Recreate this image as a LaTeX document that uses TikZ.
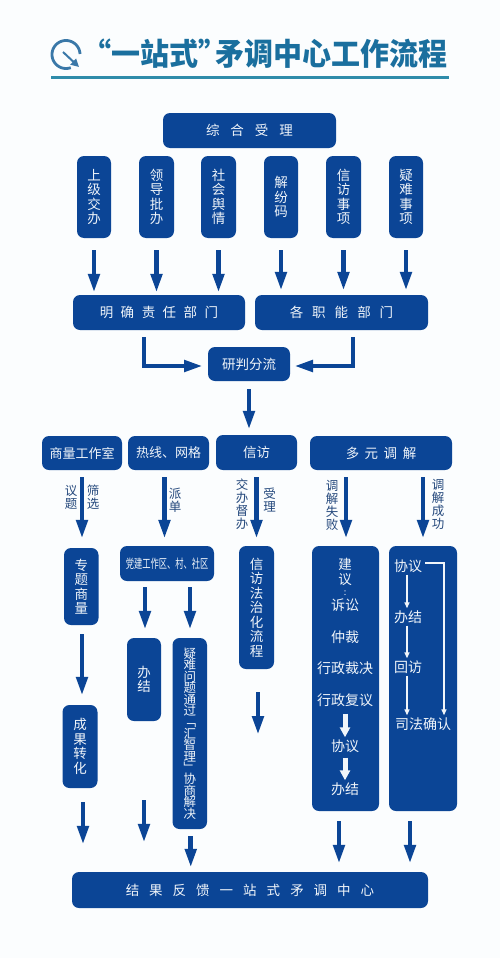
\documentclass[tikz,border=0pt]{standalone}
\usepackage{fontspec}
\usepackage{graphicx}
\setmainfont{Noto Sans CJK SC}
\usetikzlibrary{arrows.meta}
\definecolor{navy}{HTML}{0B4596}
\definecolor{lab}{HTML}{24487C}
\definecolor{ttl}{HTML}{1A6F9E}
\definecolor{rule}{HTML}{2F8CAA}
\definecolor{icn}{HTML}{3A78A8}
\definecolor{paper}{HTML}{FBFDFE}
\definecolor{txt}{HTML}{F0F5FA}
\lineskiplimit=-20pt
\tikzset{
  x=1pt,y=-1pt,
  box/.style={fill=navy,rounded corners=7pt,inner sep=0pt,align=center,text=txt,font=\fontsize{13.5}{14.5}\selectfont},
  tightbox/.style={font=\fontsize{12.5}{11.4}\selectfont},
  wordv/.style={inner sep=0pt,align=center,text=txt,font=\fontsize{14}{15}\selectfont},
  lbl/.style={inner sep=0pt,align=center,text=lab,font=\fontsize{12.5}{13}\selectfont},
  arr/.style={draw=navy,line width=4.7pt,-{Triangle[length=19pt,width=11pt]}},
  barr/.style={draw=navy,line width=4.7pt,line join=miter,-{Triangle[length=19pt,width=11pt]}},
  warr/.style={draw=txt,line width=1.3pt,-{Triangle[length=6pt,width=5pt]}},
  warrb/.style={draw=txt,line width=5pt,-{Triangle[length=10pt,width=10pt]}},
}
\newcommand{\bx}[7][]{%
  \pgfmathsetmacro{\cxx}{(#3+#5)/2}\pgfmathsetmacro{\cyy}{(#4+#6)/2}%
  \pgfmathsetmacro{\wxx}{#5-#3}\pgfmathsetmacro{\hyy}{#6-#4}%
  \node[box,#1,minimum width=\wxx pt,minimum height=\hyy pt] (#2) at (\cxx,\cyy) {#7};}
\newcommand{\gp}[1]{\hspace{#1pt}}
\begin{document}
\begin{tikzpicture}
\useasboundingbox (0,0) rectangle (500,958);
\fill[paper] (0,0) rectangle (500,958);
% title
\draw[icn,line width=2.8pt] plot[domain=70:358,samples=50] ({66+14*cos(\x)},{54.5+14*sin(\x)});
\draw[icn,line width=2pt,-{Triangle[length=8pt,width=8pt]}] (63,52) -- (79,67);
\node[inner sep=0pt,text=ttl] (title1) at (155,54) {\scalebox{1}[1.06]{\fontsize{29}{30}\selectfont\bfseries “一站式”}};
\node[inner sep=0pt,text=ttl] (title2) at (331.5,54) {\scalebox{1}[1.06]{\fontsize{29}{30}\selectfont\bfseries 矛调中心工作流程}};
\fill[rule] (51,75.5) rectangle (449,78.5);
% top
\bx{zh}{163}{113}{336}{148}{综\gp{11}合\gp{11}受\gp{11}理}
\bx{t1}{77}{156}{111}{238}{上\\级\\交\\办}
\bx{t2}{139}{156}{174}{238}{领\\导\\批\\办}
\bx{t3}{201}{156}{236}{238}{社\\会\\舆\\情}
\bx{t4}{264}{156}{298}{238}{解\\纷\\码}
\bx{t5}{326}{156}{361}{238}{信\\访\\事\\项}
\bx{t6}{389}{156}{423}{238}{疑\\难\\事\\项}
\bx{m1}{73}{295}{245}{330}{明\gp{7.5}确\gp{7.5}责\gp{7.5}任\gp{7.5}部\gp{7.5}门}
\bx{m2}{255}{295}{428}{330}{各\gp{9}职\gp{9}能\gp{9}部\gp{9}门}
\bx{yp}{208}{347}{290}{381}{研判分流}
\bx{a1}{42}{436}{122}{470}{\fontsize{13}{14}\selectfont 商量工作室}
\bx{a2}{128}{436}{209}{470}{\fontsize{13}{14}\selectfont 热线、网格}
\bx{a3}{216}{435}{297}{470}{信访}
\bx{a4}{310}{436}{452}{470}{多\gp{5.5}元\gp{5.5}调\gp{5.5}解}
\bx{b1}{64}{548}{98.5}{625}{专\\题\\商\\量}
\bx{b2}{120}{546}{214}{581}{\scalebox{0.66}[1]{\fontsize{12.5}{13}\selectfont 党建工作区、村、社区}}
\bx{c1}{127}{638}{161}{721}{办\\结}
\bx[tightbox]{c2}{172.5}{638}{207}{829}{疑\\难\\问\\题\\通\\过\\﹁\\汇\\智\\理\\﹂\\协\\商\\解\\决}
\bx{b3}{239}{546}{274}{669}{信\\访\\法\\治\\化\\流\\程}
\bx{b4}{312}{546}{379}{811}{}
\bx{b5}{389}{546}{457}{811}{}
\bx{d1}{62.5}{705}{97.5}{788}{成\\果\\转\\化}
\bx{ft}{72}{872}{428}{908}{结\gp{10}果\gp{10}反\gp{10}馈\gp{10}一\gp{10}站\gp{10}式\gp{10}矛\gp{10}调\gp{10}中\gp{10}心}
% free arrow ends
\coordinate (x3) at (258,692);
\coordinate (x3e) at (258,735);
\coordinate (l1) at (144,337);
\coordinate (l2) at (144,366);
\coordinate (l3) at (203,366);
\coordinate (r1) at (353,337);
\coordinate (r2) at (353,366);
\coordinate (r3) at (294,366);
% texts in blue boxes
\node[wordv,font=\fontsize{13.5}{14.5}\selectfont] (j1) at (345,577) {建\\议\\[-3pt]\fontsize{9}{9}\selectfont :};
\node[wordv] (j2) at (345,605) {诉讼};
\node[wordv] (j3) at (345,637) {仲裁};
\node[wordv] (j4) at (345,668) {行政裁决};
\node[wordv] (j5) at (345,700) {行政复议};
\node[wordv] (j6) at (345,746) {协议};
\node[wordv] (j7) at (345,789) {办结};
\node[wordv] (p1) at (408,566) {协议};
\node[wordv] (p2) at (408,617) {办结};
\node[wordv] (p3) at (408,667) {回访};
\node[wordv] (p4) at (423,724) {司法确认};
% labels
\node[lbl] at (71,497) {议\\题};
\node[lbl] at (93,497) {筛\\选};
\node[lbl] at (175,500) {派\\单};
\node[lbl] at (242,504) {交\\办\\督\\办};
\node[lbl] at (269.5,500) {受\\理};
\node[lbl] at (332,505) {调\\解\\失\\败};
\node[lbl] at (438,504) {调\\解\\成\\功};
% arrows row 1
\foreach \n/\t in {t1/m1,t2/m1,t3/m1}
  \draw[arr] ([yshift=-12pt]\n.south) -- ([yshift=2pt]\n.south |- \t.north);
\foreach \n/\t in {t4/m2,t5/m2,t6/m2}
  \draw[arr] ([yshift=-12pt]\n.south) -- ([yshift=4pt]\n.south |- \t.north);
\draw[barr] (l1) -- (l2) -- (l3);
\draw[barr] (r1) -- (r2) -- (r3);
\draw[arr] ([yshift=-8pt]yp.south) -- ([yshift=5pt]yp.south |- a3.north);
\draw[arr] ([yshift=-7pt,xshift=0pt]a1.south) -- ([yshift=9pt]a1.south |- b1.north);
\draw[arr] ([yshift=-7pt,xshift=-4pt]a2.south) -- ([xshift=-4pt,yshift=7pt]a2.south |- b2.north);
\draw[arr] ([yshift=-7pt]a3.south) -- ([yshift=7pt]a3.south |- b3.north);
\draw[arr] ([yshift=-7pt,xshift=-35pt]a4.south) -- ([xshift=-35pt,yshift=7pt]a4.south |- b4.north);
\draw[arr] ([yshift=-7pt,xshift=42pt]a4.south) -- ([xshift=42pt,yshift=7pt]a4.south |- b5.north);
\draw[arr] ([xshift=0.75pt,yshift=-9pt]b1.south) -- ([xshift=0.75pt,yshift=9pt]b1.south |- d1.north);
\draw[arr] ([xshift=-22pt,yshift=-6pt]b2.south) -- ([xshift=-22pt,yshift=8pt]b2.south |- c1.north);
\draw[arr] ([xshift=23pt,yshift=-6pt]b2.south) -- ([xshift=23pt,yshift=8pt]b2.south |- c2.north);
\draw[arr] (x3) -- (x3e);
\draw[arr] ([xshift=3pt,yshift=-14pt]d1.south) -- ([xshift=3pt,yshift=27pt]d1.south |- ft.north);
\draw[arr] ([yshift=-79pt]c1.south) -- ([yshift=29pt]c1.south |- ft.north);
\draw[arr] ([xshift=1pt,yshift=-7pt]c2.south) -- ([xshift=1pt,yshift=4pt]c2.south |- ft.north);
\draw[arr] ([xshift=-6.5pt,yshift=-10pt]b4.south) -- ([xshift=-6.5pt,yshift=8pt]b4.south |- ft.north);
\draw[arr] ([xshift=-13pt,yshift=-10pt]b5.south) -- ([xshift=-13pt,yshift=8pt]b5.south |- ft.north);
% white arrows
\draw[warr] (p1.south) ++(-1,2) -- ([xshift=-1pt,yshift=2pt]p1.south |- p2.north);
\draw[warr] (p2.south) ++(-1,2) -- ([xshift=-1pt,yshift=2pt]p2.south |- p3.north);
\draw[warr] (p3.south) ++(-1,2) -- ([xshift=-16pt,yshift=2pt]p4.north);
\draw[warr] ([xshift=3pt,yshift=3pt]p1.east) -| ([xshift=21pt,yshift=2pt]p4.north);
\draw[warrb] ([yshift=-7pt]j5.south) -- ([yshift=2pt]j6.north);
\draw[warrb] ([yshift=-5pt]j6.south) -- ([yshift=2pt]j7.north);
\end{tikzpicture}
\end{document}
